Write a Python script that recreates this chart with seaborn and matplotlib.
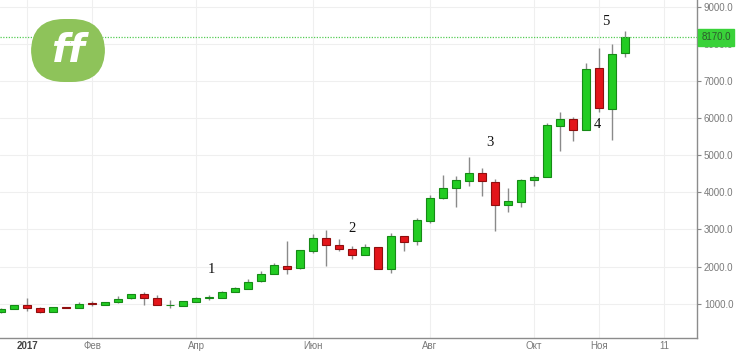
import numpy as np
import pandas as pd
import seaborn as sns
import matplotlib.pyplot as plt
from matplotlib.patches import FancyBboxPatch
from matplotlib.transforms import blended_transform_factory

# --- Data (weekly candles) ---
opens = [774, 865, 981, 892, 793, 912, 892, 1016, 972, 1043,
         1150, 1268, 1160, 955, 954, 1061, 1145, 1150, 1311, 1402,
         1607, 1805, 2030, 1956, 2431, 2773, 2593, 2477, 2316, 2520,
         1948, 2816, 2681, 3237, 3837, 4106, 4312, 4509, 4277, 3659,
         3748, 4339, 4412, 5790, 5978, 5682, 7340, 6255, 7743]
highs = [880, 975, 1160, 905, 915, 920, 1043, 1070, 1060, 1200,
         1275, 1305, 1250, 1090, 1080, 1180, 1230, 1340, 1440, 1680,
         1890, 2100, 2680, 2460, 2880, 2990, 2746, 2547, 2600, 2530,
         2907, 2830, 3310, 3936, 4473, 4428, 4948, 4653, 4357, 4106,
         4350, 4473, 5862, 6174, 6040, 7491, 7877, 7993, 8350]
lows = [765, 860, 801, 757, 785, 880, 885, 935, 965, 1035,
        1140, 981, 960, 890, 945, 1055, 1115, 1145, 1305, 1395,
        1600, 1795, 1810, 1950, 2370, 2030, 2413, 2208, 2300, 1940,
        1832, 2413, 2593, 3176, 3830, 3605, 4159, 3891, 2969, 3471,
        3605, 4159, 4400, 5100, 5368, 5680, 6174, 5414, 7635]
closes = [865, 962, 881, 793, 908, 893, 1007, 990, 1053, 1142,
          1262, 1150, 965, 968, 1070, 1169, 1172, 1330, 1419, 1580,
          1805, 2037, 1950, 2440, 2773, 2585, 2467, 2316, 2520, 1948,
          2816, 2673, 3246, 3847, 4116, 4320, 4509, 4294, 3659, 3766,
          4339, 4420, 5809, 5978, 5682, 7321, 6282, 7724, 8170]

month_weeks = [2, 7, 15, 24, 33, 41, 46, 51]
month_labels = ["2017", "Фев", "Апр", "Июн", "Авг", "Окт", "Ноя", "11"]
y_ticks = [1000, 2000, 3000, 4000, 5000, 6000, 7000, 8000, 9000]
last_price = 8170

wave_labels = ["1", "2", "3", "4", "5"]
wave_x = [16.2, 27.0, 37.6, 45.9, 46.5]
wave_y = [1934, 3023, 5333, 5816, 8584]

df = pd.DataFrame({"open": opens, "high": highs, "low": lows, "close": closes})
df["week"] = np.arange(len(df))
df["up"] = df["close"] >= df["open"]

# --- Style ---
sns.set_theme(style="whitegrid")
plt.rcParams["font.family"] = ["Liberation Sans", "DejaVu Sans"]

fig = plt.figure(figsize=(7.36, 3.52), dpi=100)
ax = fig.add_axes([0, 14 / 352, 697 / 736, 338 / 352])
ax.set_facecolor("white")

# wicks
ax.vlines(df["week"], df["low"], df["high"], color="#8a8a8a", linewidth=1.0, zorder=2)

# bodies
body_bottom = df[["open", "close"]].min(axis=1)
body_height = (df["close"] - df["open"]).abs().clip(lower=15)
up = df["up"]
ax.bar(df["week"][up], body_height[up], bottom=body_bottom[up], width=0.68,
       color="#22cc22", edgecolor="#168a16", linewidth=0.8, zorder=3)
ax.bar(df["week"][~up], body_height[~up], bottom=body_bottom[~up], width=0.68,
       color="#e3151a", edgecolor="#8f0e0e", linewidth=0.8, zorder=3)

# last price line + label
ax.axhline(last_price, color="#55cc55", linestyle=(0, (1, 1.2)), linewidth=0.9, zorder=4)
tr = blended_transform_factory(ax.transAxes, ax.transData)
ax.text(1.006, last_price, f"{last_price:.1f}", transform=tr, ha="left", va="center",
        fontsize=7, color="#2d5a2d", clip_on=False, zorder=6,
        bbox=dict(boxstyle="square,pad=0.35", facecolor="#39d239", edgecolor="#39d239"))

# wave labels
for lab, wx, wy in zip(wave_labels, wave_x, wave_y):
    ax.text(wx, wy, lab, ha="center", va="center", fontsize=10.5,
            family=["Liberation Serif", "DejaVu Serif"], color="#111111", zorder=5)

# axes
ax.set_xlim(-0.077, 53.54)
ax.set_ylim(80, 9175)
ax.yaxis.tick_right()
ax.set_yticks(y_ticks)
ax.set_yticklabels([f"{v:.1f}" for v in y_ticks])
ax.set_xticks(month_weeks)
ax.set_xticklabels(month_labels)
ax.tick_params(axis="both", which="major", width=0.8, color="#888888",
               labelsize=7, labelcolor="#7a7a7a")
ax.tick_params(axis="y", length=3, pad=2)
ax.tick_params(axis="x", length=2, pad=0.5)
ax.get_xticklabels()[0].set_fontweight("bold")
ax.get_xticklabels()[0].set_color("#444444")
ax.grid(True, color="#efefef", linewidth=0.8)
ax.set_axisbelow(True)
for side in ["left", "top"]:
    ax.spines[side].set_visible(False)
for side in ["right", "bottom"]:
    ax.spines[side].set_visible(True)
    ax.spines[side].set_color("#8c8c8c")
    ax.spines[side].set_linewidth(1.0)
ax.set_xlabel("")
ax.set_ylabel("")

# logo
logo = FancyBboxPatch((31 / 736, 1 - 82 / 352), 74 / 736, 63 / 352,
                      boxstyle="round,pad=0,rounding_size=0.045",
                      transform=fig.transFigure, facecolor="#8ec35a",
                      edgecolor="none", zorder=1, mutation_aspect=736 / 352)
fig.patches.append(logo)
fig.text(68 / 736, 1 - 51 / 352, "ff", ha="center", va="center", fontsize=28,
         color="white", fontweight="bold", style="italic",
         family=["DejaVu Sans"], zorder=2)

fig.savefig("out.png", dpi=100)
